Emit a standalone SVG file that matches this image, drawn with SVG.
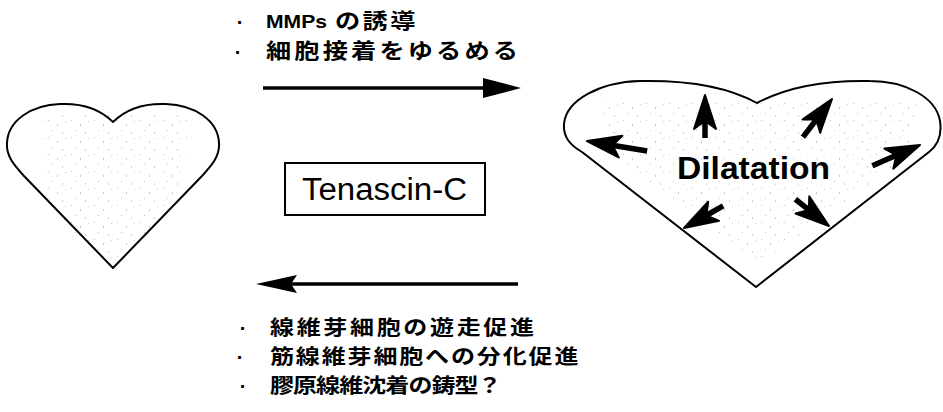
<svg xmlns="http://www.w3.org/2000/svg" xmlns:xlink="http://www.w3.org/1999/xlink" width="943" height="412" viewBox="0 0 943 412">
  <style>
    .heart { fill: #fff; stroke: #000; stroke-width: 2; stroke-linejoin: round; }
    .speckle { fill: url(#speckle); opacity: 0.35; }
    .lbl { font-family: "Liberation Sans", "Noto Sans CJK JP", sans-serif; font-weight: bold; fill: #000; }
    .jp { font-family: "Noto Sans CJK JP", "Liberation Sans", sans-serif; font-weight: bold; fill: #000; }
    .bullet { font-family: "Liberation Sans", sans-serif; font-weight: bold; font-size: 20px; fill: #000; text-anchor: middle; }
    .conn { stroke: #000; stroke-width: 3.5; fill: none; }
    .dart { fill: #000; stroke: #000; stroke-width: 2; stroke-linejoin: round; }
    .shaft { stroke: #000; stroke-width: 5.5; stroke-linecap: butt; }
  </style>
  <defs>
    <!-- sparse grey grain used inside the hearts -->
    <pattern id="speckle" width="23" height="17" patternUnits="userSpaceOnUse">
      <rect x="2" y="1" width="1" height="1" fill="#555"/>
      <rect x="11" y="5" width="1" height="2" fill="#666"/>
      <rect x="19" y="2" width="1" height="1" fill="#777"/>
      <rect x="6" y="11" width="1" height="1" fill="#555"/>
      <rect x="16" y="13" width="1" height="2" fill="#777"/>
    </pattern>
  </defs>

  <!-- normal heart -->
  <g id="heart-normal">
    <path class="heart" d="M113,122 C100,109 82,103 60,104 C32,105 8,120 7,143 C6,156 14,165 24,176 L113,268 L202,176 C212,165 220,156 219,143 C218,120 194,105 166,104 C144,103 126,109 113,122 Z"/>
    <path class="speckle" d="M40,115 L190,115 L185,175 L150,235 L113,262 L76,235 L40,175 Z"/>
  </g>

  <!-- dilated heart -->
  <g id="heart-dilated">
    <path class="heart" d="M757,103 C730,88 690,80 640,81 C600,82 566,100 564,124 C563,137 570,145 582,152 L756,287 L929,152 C938,145 942,134 940,121 C936,97 905,81 870,81 C825,80 785,88 757,103 Z"/>
    <path class="speckle" d="M600,100 L920,100 L905,160 L830,215 L756,265 L690,215 L610,160 Z"/>
    <!-- outward darts: each drawn pointing along +x, tip at the local origin -->
    <g id="dilatation-arrows">
      <g transform="translate(705,95) rotate(-90)"><path class="dart" d="M0,0 L-34,-11 L-28,-3 L-28,3 L-34,11 Z"/><line class="shaft" x1="-43" y1="0" x2="-27" y2="0"/></g>
      <g transform="translate(832,99) rotate(-52.7)"><path class="dart" d="M0,0 L-34,-11 L-28,-3 L-28,3 L-34,11 Z"/><line class="shaft" x1="-48" y1="0" x2="-27" y2="0"/></g>
      <g transform="translate(920,145) rotate(-23.6)"><path class="dart" d="M0,0 L-34,-11 L-28,-3 L-28,3 L-34,11 Z"/><line class="shaft" x1="-52" y1="0" x2="-27" y2="0"/></g>
      <g transform="translate(587,141) rotate(189.5)"><path class="dart" d="M0,0 L-34,-11 L-28,-3 L-28,3 L-34,11 Z"/><line class="shaft" x1="-61" y1="0" x2="-27" y2="0"/></g>
      <g transform="translate(684,228) rotate(150.6)"><path class="dart" d="M0,0 L-34,-11 L-28,-3 L-28,3 L-34,11 Z"/><line class="shaft" x1="-45" y1="0" x2="-27" y2="0"/></g>
      <g transform="translate(829,226) rotate(38.5)"><path class="dart" d="M0,0 L-34,-11 L-28,-3 L-28,3 L-34,11 Z"/><line class="shaft" x1="-43" y1="0" x2="-27" y2="0"/></g>
    </g>
    <rect x="674" y="154" width="160" height="30" fill="#fff" opacity="0.5"/>
    <text class="lbl" x="677" y="179" font-size="32" textLength="153" lengthAdjust="spacingAndGlyphs">Dilatation</text>
  </g>

  <!-- central label -->
  <g id="tenascin">
    <rect x="285" y="163" width="200" height="52" fill="#fff" stroke="#000" stroke-width="2"/>
    <text x="302" y="200" font-family="Liberation Sans, sans-serif" font-size="31" fill="#000" textLength="165" lengthAdjust="spacingAndGlyphs">Tenascin-C</text>
  </g>

  <!-- upper effects (Japanese lines set slightly wide) -->
  <g id="effects-forward">
    <text class="bullet" x="240" y="29">·</text>
    <text class="lbl" x="266" y="28" font-size="19" textLength="61" lengthAdjust="spacingAndGlyphs">MMPs</text>
    <text class="jp" transform="translate(335,28) scale(1.2,1)" font-size="21" letter-spacing="2">の誘導</text>
    <text class="bullet" x="238" y="59">·</text>
    <text class="jp" transform="translate(266,58) scale(1.2,1)" font-size="21" textLength="210" lengthAdjust="spacing">細胞接着をゆるめる</text>
  </g>

  <!-- lower effects -->
  <g id="effects-reverse">
    <text class="bullet" x="243" y="335">·</text>
    <text class="jp" transform="translate(270,335) scale(1.2,1)" font-size="20" textLength="220" lengthAdjust="spacing">線維芽細胞の遊走促進</text>
    <text class="bullet" x="240" y="364">·</text>
    <text class="jp" transform="translate(270,364) scale(1.2,1)" font-size="20" textLength="257" lengthAdjust="spacing">筋線維芽細胞への分化促進</text>
    <text class="bullet" x="243" y="393">·</text>
    <text class="jp" transform="translate(270,393) scale(1.2,1)" font-size="20" textLength="193" lengthAdjust="spacing">膠原線維沈着の鋳型？</text>
  </g>

  <!-- connectors -->
  <g id="connectors">
    <line class="conn" x1="263" y1="88" x2="486" y2="88"/>
    <polygon points="483,78 521,88 483,98" fill="#000"/>
    <line class="conn" x1="290" y1="284" x2="518" y2="284"/>
    <polygon points="256,284 297,275 291,284 297,293" fill="#000"/>
  </g>
</svg>
